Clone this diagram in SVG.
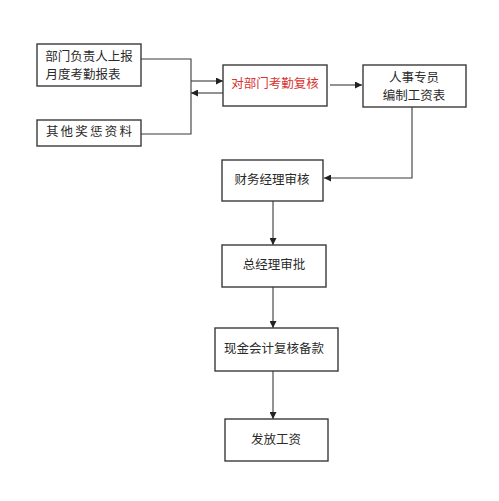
<svg xmlns="http://www.w3.org/2000/svg" width="499" height="501" viewBox="0 0 499 501">
<style>
.box{fill:#fff;stroke:#3a3a3a;stroke-width:1.4}
.t{font-family:"Noto Sans CJK SC","Liberation Serif",sans-serif;font-size:12.5px;fill:#2a2a2a;text-anchor:middle;dominant-baseline:central}
.red{fill:#d8332f}
.ln{fill:none;stroke:#3a3a3a;stroke-width:1.1}
</style>
<defs>
<marker id="ah" viewBox="0 0 10 10" refX="10" refY="5" markerWidth="7" markerHeight="7" markerUnits="userSpaceOnUse" orient="auto">
<path d="M0,0 L10,5 L0,10 z" fill="#222"/>
</marker>
</defs>
<rect width="499" height="501" fill="#fff"/>
<g id="connectors">
<polyline class="ln" points="141,59 191,59 191,134 141,134"/>
<line class="ln" x1="191" y1="81" x2="223" y2="81" marker-end="url(#ah)"/>
<line class="ln" x1="223" y1="93" x2="191" y2="93" marker-end="url(#ah)"/>
<line class="ln" x1="330" y1="85" x2="362" y2="85" marker-end="url(#ah)"/>
<polyline class="ln" points="412,107 412,178 324,178" marker-end="url(#ah)"/>
<line class="ln" x1="273" y1="201" x2="273" y2="245" marker-end="url(#ah)"/>
<line class="ln" x1="273" y1="287" x2="273" y2="328" marker-end="url(#ah)"/>
<line class="ln" x1="273" y1="371" x2="273" y2="419" marker-end="url(#ah)"/>
</g>
<g id="n1"><rect class="box" x="37" y="44" width="104" height="42"/>
<text class="t" x="89" y="55">部门负责人上报</text>
<text class="t" x="83" y="73">月度考勤报表</text></g>
<g id="n2"><rect class="box" x="37" y="120" width="104" height="26"/>
<text class="t" x="90" y="130" letter-spacing="2.2">其他奖惩资料</text></g>
<g id="n3"><rect class="box" x="223" y="65" width="104" height="41"/>
<text class="t red" x="275" y="82">对部门考勤复核</text></g>
<g id="n4"><rect class="box" x="363" y="65" width="103" height="42"/>
<text class="t" x="414" y="76">人事专员</text>
<text class="t" x="414" y="94">编制工资表</text></g>
<g id="n5"><rect class="box" x="222" y="160" width="101" height="41"/>
<text class="t" x="272" y="178">财务经理审核</text></g>
<g id="n6"><rect class="box" x="222" y="245" width="104" height="42"/>
<text class="t" x="274" y="263">总经理审批</text></g>
<g id="n7"><rect class="box" x="215" y="328" width="123" height="43"/>
<text class="t" x="274" y="347">现金会计复核备款</text></g>
<g id="n8"><rect class="box" x="225" y="419" width="103" height="42"/>
<text class="t" x="276" y="438">发放工资</text></g>
</svg>
